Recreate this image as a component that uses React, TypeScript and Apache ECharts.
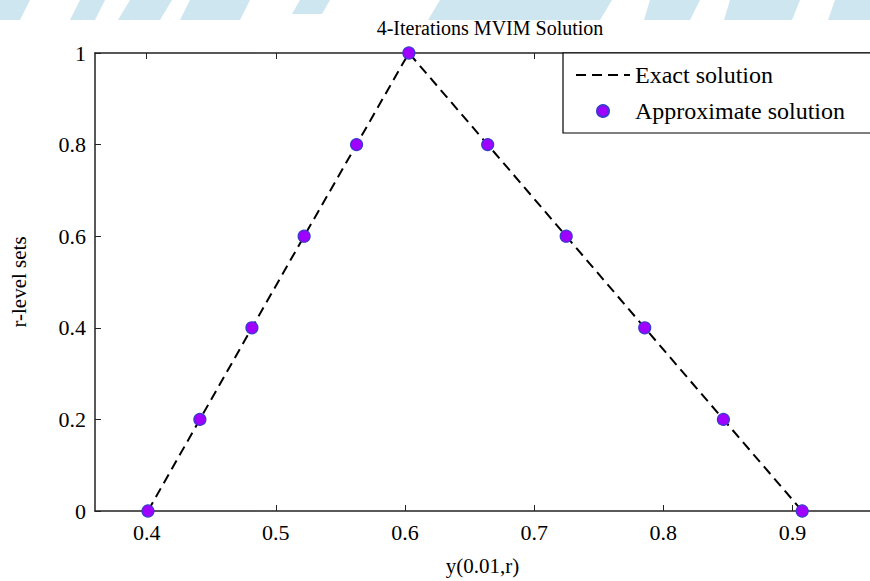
import React, { useEffect, useRef } from "react";
import * as echarts from "echarts";

const rLevels = [0, 0.2, 0.4, 0.6, 0.8, 1, 0.8, 0.6, 0.4, 0.2, 0];
const exactX = [0.401, 0.4412, 0.4815, 0.5219, 0.5625, 0.603, 0.664, 0.7248, 0.7856, 0.8465, 0.9075];
const approxX = [0.401, 0.4412, 0.4815, 0.5219, 0.5625, 0.603, 0.664, 0.7248, 0.7856, 0.8465, 0.9075];
const xTicks = [0.4, 0.5, 0.6, 0.7, 0.8, 0.9];

const FONT = "'Liberation Serif', 'DejaVu Serif', serif";
const WM = "#cde6f0";

export default function App() {
  const ref = useRef<HTMLDivElement>(null);
  useEffect(() => {
    if (!ref.current) return;
    const chart = echarts.init(ref.current, undefined, { renderer: "svg" });
    const exact = exactX.map((x, i) => [x, rLevels[i]]);
    const approx = approxX.map((x, i) => [x, rLevels[i]]);
    chart.setOption({
      animation: false,
      backgroundColor: "#ffffff",
      title: {
        text: "4-Iterations MVIM Solution",
        left: 485,
        textAlign: "center",
        top: 13,
        textStyle: { fontFamily: FONT, fontSize: 20, fontWeight: "normal", color: "#000" },
      },
      graphic: [
        { type: "polygon", shape: { points: [[0, 0], [30, 0], [20, 20], [0, 20]] }, style: { fill: WM }, z: -10 },
        { type: "polygon", shape: { points: [[80, 0], [105, 0], [95, 20], [70, 20]] }, style: { fill: WM }, z: -10 },
        { type: "polygon", shape: { points: [[130, 0], [172, 0], [160, 20], [118, 20]] }, style: { fill: WM }, z: -10 },
        { type: "polygon", shape: { points: [[190, 0], [250, 0], [240, 20], [180, 20]] }, style: { fill: WM }, z: -10 },
        { type: "polygon", shape: { points: [[300, 0], [330, 0], [322, 14], [292, 14]] }, style: { fill: WM }, z: -10 },
        { type: "polygon", shape: { points: [[440, 0], [612, 0], [600, 20], [428, 20]] }, style: { fill: WM }, z: -10 },
        { type: "polygon", shape: { points: [[650, 0], [700, 0], [690, 20], [644, 20]] }, style: { fill: WM }, z: -10 },
        { type: "polygon", shape: { points: [[730, 0], [800, 0], [792, 20], [724, 20]] }, style: { fill: WM }, z: -10 },
        { type: "polygon", shape: { points: [[835, 0], [870, 0], [870, 20], [828, 20]] }, style: { fill: WM }, z: -10 },
      ],
      legend: {
        orient: "vertical",
        left: 563,
        top: 53,
        backgroundColor: "#ffffff",
        borderColor: "#000",
        borderWidth: 1.2,
        borderRadius: 0,
        padding: [10, 30, 10, 12],
        itemGap: 12,
        itemWidth: 54,
        itemHeight: 12,
        textStyle: { fontFamily: FONT, fontSize: 24, color: "#000" },
        data: [
          { name: "Exact solution", itemStyle: { opacity: 0 } },
          { name: "Approximate solution" },
        ],
      },
      grid: { left: 89, top: 53, right: -11, bottom: 66, containLabel: false },
      xAxis: [
        {
          type: "value",
          min: 0.36,
          max: 0.96,
          position: "bottom",
          name: "y(0.01,r)",
          nameLocation: "middle",
          nameGap: 44,
          nameTextStyle: { fontFamily: FONT, fontSize: 21, color: "#000" },
          axisLine: { show: true, lineStyle: { color: "#222", width: 1.5 } },
          axisTick: { show: true, inside: true, length: 6, customValues: xTicks, lineStyle: { color: "#222" } },
          axisLabel: {
            customValues: xTicks,
            margin: 10,
            fontFamily: FONT,
            fontSize: 22,
            color: "#000",
            formatter: (v: number) => String(Math.round(v * 10) / 10),
          },
          splitLine: { show: false },
        },
        {
          type: "value",
          min: 0.36,
          max: 0.96,
          position: "top",
          axisLine: { show: true, lineStyle: { color: "#222", width: 1.5 } },
          axisTick: { show: true, inside: true, length: 6, customValues: xTicks, lineStyle: { color: "#222" } },
          axisLabel: { show: false },
          splitLine: { show: false },
        },
      ],
      yAxis: {
        type: "value",
        min: 0,
        max: 1,
        interval: 0.2,
        name: "r-level sets",
        nameLocation: "middle",
        nameGap: 66,
        nameTextStyle: { fontFamily: FONT, fontSize: 21, color: "#000" },
        axisLine: { show: true, lineStyle: { color: "#222", width: 1.5 } },
        axisTick: { show: true, inside: true, length: 6, lineStyle: { color: "#222" } },
        axisLabel: { margin: 9, fontFamily: FONT, fontSize: 22, color: "#000" },
        splitLine: { show: false },
      },
      series: [
        {
          name: "Exact solution",
          type: "line",
          data: exact,
          symbol: "none",
          lineStyle: { color: "#000", width: 2, type: [10, 6] },
          itemStyle: { color: "#000" },
          z: 2,
        },
        {
          name: "Approximate solution",
          type: "scatter",
          data: approx,
          symbol: "circle",
          symbolSize: 12,
          itemStyle: { color: "#a000ff", borderColor: "#3a3acc", borderWidth: 1.2, opacity: 1 },
          z: 3,
        },
      ],
    });
    return () => chart.dispose();
  }, []);
  return <div ref={ref} style={{ width: 870, height: 581, position: "absolute", left: 0, top: 0 }} />;
}
